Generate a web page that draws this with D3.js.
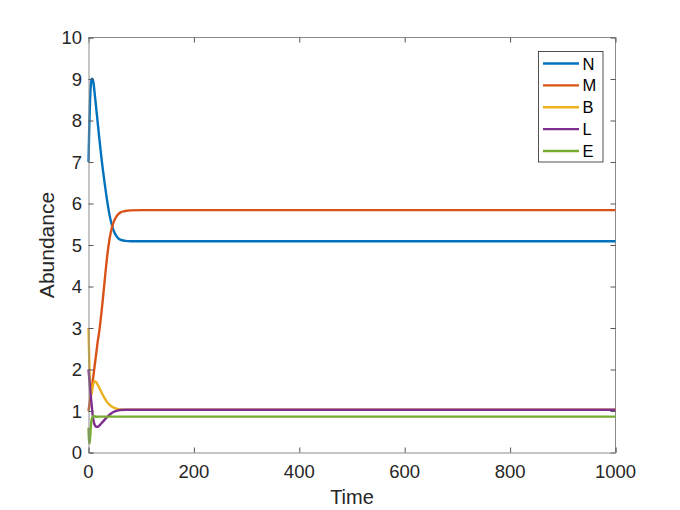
<!DOCTYPE html>
<html>
<head>
<meta charset="utf-8">
<script src="https://cdn.jsdelivr.net/npm/d3@7"></script>
<style>
  body { margin: 0; background: #fff; }
  svg { font-family: "Liberation Sans", Arial, sans-serif; }
</style>
</head>
<body>
<svg id="chart" width="680" height="510"></svg>
<script>
// values
var times = [0, 1, 2, 3, 4, 5, 6, 8, 10, 12, 15, 18, 20, 25, 30, 35, 40, 45, 50, 55, 60, 70, 80, 100, 150, 200, 300, 400, 500, 600, 700, 800, 900, 1000];
var seriesN = [7.0, 7.6, 8.1, 8.5, 8.78, 8.93, 9.0, 9.0, 8.85, 8.62, 8.25, 7.88, 7.63, 7.05, 6.55, 6.1, 5.72, 5.45, 5.28, 5.18, 5.13, 5.1, 5.09, 5.09, 5.09, 5.09, 5.09, 5.09, 5.09, 5.09, 5.09, 5.09, 5.09, 5.09];
var seriesM = [1.0, 1.09, 1.18, 1.27, 1.36, 1.45, 1.54, 1.73, 1.92, 2.12, 2.42, 2.72, 2.88, 3.42, 4.05, 4.68, 5.15, 5.45, 5.62, 5.72, 5.78, 5.82, 5.835, 5.84, 5.84, 5.84, 5.84, 5.84, 5.84, 5.84, 5.84, 5.84, 5.84, 5.84];
var seriesB = [3.0, 2.45, 1.95, 1.6, 1.42, 1.38, 1.42, 1.58, 1.68, 1.72, 1.69, 1.62, 1.57, 1.44, 1.32, 1.22, 1.15, 1.1, 1.07, 1.05, 1.035, 1.03, 1.03, 1.03, 1.03, 1.03, 1.03, 1.03, 1.03, 1.03, 1.03, 1.03, 1.03, 1.03];
var seriesL = [2.0, 1.85, 1.7, 1.55, 1.4, 1.27, 1.15, 0.9, 0.74, 0.66, 0.62, 0.62, 0.64, 0.71, 0.78, 0.85, 0.91, 0.96, 0.99, 1.01, 1.025, 1.03, 1.03, 1.03, 1.03, 1.03, 1.03, 1.03, 1.03, 1.03, 1.03, 1.03, 1.03, 1.03];
var seriesE = [0.6, 0.3, 0.22, 0.35, 0.55, 0.7, 0.8, 0.86, 0.88, 0.87, 0.86, 0.865, 0.865, 0.865, 0.865, 0.865, 0.865, 0.865, 0.865, 0.865, 0.865, 0.865, 0.865, 0.865, 0.865, 0.865, 0.865, 0.865, 0.865, 0.865, 0.865, 0.865, 0.865, 0.865];
var seriesNames = ["N", "M", "B", "L", "E"];
var xTicks = [0, 200, 400, 600, 800, 1000];
var yTicks = [0, 1, 2, 3, 4, 5, 6, 7, 8, 9, 10];

var colors = ["#0072BD", "#D95319", "#EDB120", "#7E2F8E", "#77AC30"];
var allSeries = [seriesN, seriesM, seriesB, seriesL, seriesE];

var pLeft = 88.5, pRight = 615.5, pTop = 37.5, pBottom = 452.5;
var axisColor = "#8a8a8a", textColor = "#262626";

var svg = d3.select("#chart");

var x = d3.scaleLinear().domain([0, 1000]).range([pLeft, pRight]);
var y = d3.scaleLinear().domain([0, 10]).range([pBottom, pTop]);

// box (top and right)
svg.append("line").attr("x1", pLeft).attr("x2", pRight).attr("y1", pTop).attr("y2", pTop)
    .attr("stroke", axisColor).attr("stroke-width", 1);
svg.append("line").attr("x1", pRight).attr("x2", pRight).attr("y1", pTop).attr("y2", pBottom)
    .attr("stroke", axisColor).attr("stroke-width", 1);

// mirrored ticks on top and right
svg.append("g").attr("transform", "translate(0," + pTop + ")")
    .call(d3.axisBottom(x).tickValues(xTicks).tickSize(5).tickFormat(""))
    .call(function(g){ g.select(".domain").remove(); g.selectAll("line").attr("stroke", "#555"); });
svg.append("g").attr("transform", "translate(" + pRight + ",0)")
    .call(d3.axisLeft(y).tickValues(yTicks).tickSize(5).tickFormat(""))
    .call(function(g){ g.select(".domain").remove(); g.selectAll("line").attr("stroke", "#555"); });

// curves
var line = d3.line()
    .x(function(d){ return x(d[0]); })
    .y(function(d){ return y(d[1]); })
    .curve(d3.curveMonotoneX);

for (var j = 0; j < allSeries.length; j++) {
    var pts = times.map(function(t, i){ return [t, allSeries[j][i]]; });
    svg.append("path")
        .attr("d", line(pts))
        .attr("fill", "none")
        .attr("stroke", colors[j])
        .attr("stroke-width", 2.4)
        .attr("stroke-linejoin", "round");
}

// bottom and left axes
var xAxis = svg.append("g").attr("transform", "translate(0," + pBottom + ")")
    .call(d3.axisTop(x).tickValues(xTicks).tickSize(5).tickFormat(""));
xAxis.selectAll("line").attr("stroke", "#555");
xAxis.select(".domain").attr("stroke", axisColor);
svg.append("g").selectAll("text").data(xTicks).enter().append("text")
    .attr("x", function(d){ return x(d); })
    .attr("y", 478)
    .attr("text-anchor", "middle")
    .attr("font-size", 18.5)
    .attr("fill", textColor)
    .text(function(d){ return d; });

var yAxis = svg.append("g").attr("transform", "translate(" + pLeft + ",0)")
    .call(d3.axisRight(y).tickValues(yTicks).tickSize(5).tickFormat(""));
yAxis.selectAll("line").attr("stroke", "#555");
yAxis.select(".domain").attr("stroke", axisColor);
svg.append("g").selectAll("text").data(yTicks).enter().append("text")
    .attr("x", 82)
    .attr("y", function(d){ return y(d) + 6.5; })
    .attr("text-anchor", "end")
    .attr("font-size", 18.5)
    .attr("fill", textColor)
    .text(function(d){ return d; });

// axis titles
svg.append("text")
    .attr("x", (pLeft + pRight) / 2)
    .attr("y", 503.5)
    .attr("text-anchor", "middle")
    .attr("font-size", 20)
    .attr("fill", textColor)
    .text("Time");
svg.append("text")
    .attr("transform", "translate(53.5," + ((pTop + pBottom) / 2) + ") rotate(-90)")
    .attr("text-anchor", "middle")
    .attr("font-size", 21)
    .attr("fill", textColor)
    .text("Abundance");

// legend
var legend = svg.append("g");
legend.append("rect")
    .attr("x", 538.5).attr("y", 51.5)
    .attr("width", 64.5).attr("height", 110.5)
    .attr("fill", "#fff")
    .attr("stroke", "#262626")
    .attr("stroke-width", 0.8);
var ly = d3.scalePoint().domain(seriesNames).range([63.5, 151]);
seriesNames.forEach(function(name, i){
    legend.append("line")
        .attr("x1", 543).attr("x2", 579)
        .attr("y1", ly(name)).attr("y2", ly(name))
        .attr("stroke", colors[i])
        .attr("stroke-width", 2.4);
    legend.append("text")
        .attr("x", 582.5)
        .attr("y", ly(name) + 6)
        .attr("font-size", 16.5)
        .attr("fill", "#000")
        .text(name);
});
</script>
</body>
</html>
